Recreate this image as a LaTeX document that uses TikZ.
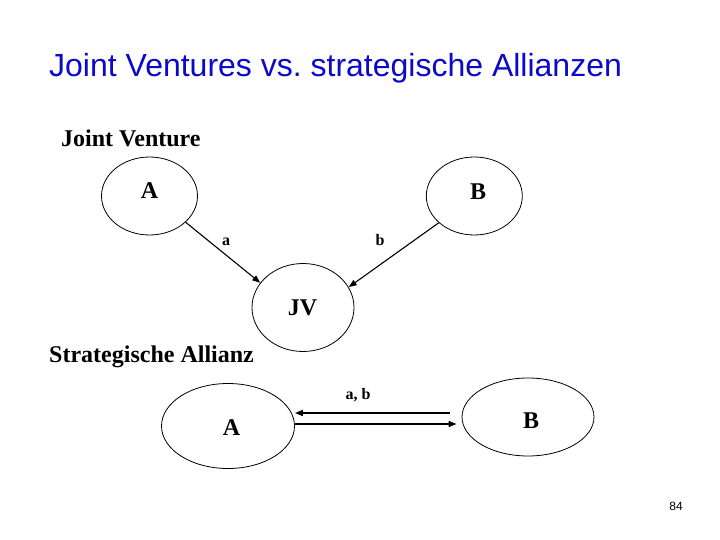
\documentclass[tikz,border=0pt]{standalone}
\usepackage{fontspec}
\setmainfont{Liberation Serif}
\setsansfont{Liberation Sans}
\usepackage{tikz}
\usetikzlibrary{arrows.meta,positioning,shapes.geometric}
\definecolor{jvTitle}{RGB}{10,10,200}
\definecolor{jvInk}{RGB}{0,0,0}
\tikzset{
    party/.style={draw=jvInk, line width=0.8pt, ellipse, inner sep=0pt, font=\fontsize{24}{28}\selectfont\bfseries},
    heading/.style={anchor=base west, inner sep=0pt, font=\fontsize{24}{28}\selectfont\bfseries},
    flowlabel/.style={inner sep=0pt, font=\fontsize{16}{19}\selectfont\bfseries},
    flowarrow/.style={-{Triangle[length=8pt,width=6pt]}, line width=1.1pt, draw=jvInk},
    pairarrow/.style={-{Triangle[length=8pt,width=6pt]}, line width=1.5pt, draw=jvInk}
}
\frenchspacing
\begin{document}
\begin{tikzpicture}[x=1pt,y=-1pt]
\useasboundingbox[fill=white] (0,0) rectangle (720,540);
% title
\node[anchor=base west, inner sep=0pt, text=jvTitle, font=\sffamily\fontsize{32}{38}\selectfont] (title) at (49,77) {Joint Ventures vs.\ strategische Allianzen};
% joint venture
\node[heading] (jvhead) at (61,147) {Joint Venture};
\node[party, minimum width=96pt, minimum height=78pt] (A) at (149.5,196) {};
\node[party, minimum width=96pt, minimum height=78pt] (B) at (474.3,196) {};
\node[party, minimum width=102pt, minimum height=88pt] (JV) at (303,307.5) {};
\node[font=\fontsize{24}{28}\selectfont\bfseries, inner sep=0pt] (Alab) at (149.5,191) {A};
\node[font=\fontsize{24}{28}\selectfont\bfseries, inner sep=0pt] (Blab) at (478,192) {B};
\node[font=\fontsize{24}{28}\selectfont\bfseries, inner sep=0pt] (JVlab) at (302.5,308) {JV};
\draw[flowarrow] (A.-36.5) -- (JV.150);
\draw[flowarrow] (B.-143) -- (JV.24);
\node[flowlabel] (alab) at (226,242) {a};
\node[flowlabel] (blab) at (380,240) {b};
% strategische allianz
\node[heading] (sahead) at (49,362) {Strategische Allianz};
\node[party, minimum width=133pt, minimum height=85pt] (A2) at (228,426) {};
\node[party, minimum width=132pt, minimum height=78pt] (B2) at (528,417) {};
\node[font=\fontsize{24}{28}\selectfont\bfseries, inner sep=0pt] (A2lab) at (231.5,428) {A};
\node[font=\fontsize{24}{28}\selectfont\bfseries, inner sep=0pt] (B2lab) at (531,421) {B};
\draw[pairarrow] ([xshift=-12pt,yshift=4pt]B2.west) -- ([yshift=13pt]A2.east);
\draw[pairarrow] ([yshift=2pt]A2.east) -- ([xshift=-5pt,yshift=-7pt]B2.west);
\node[flowlabel] (ablab) at (358,395) {a, b};
% page number
\node[inner sep=0pt, font=\sffamily\fontsize{12}{14}\selectfont] (page) at (676,506) {84};
\end{tikzpicture}
\end{document}
